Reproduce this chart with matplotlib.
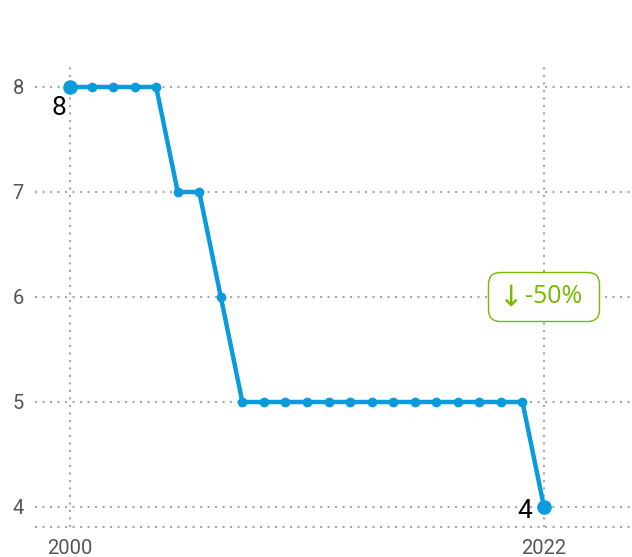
import matplotlib
matplotlib.use("Agg")
import matplotlib.pyplot as plt
from matplotlib.patches import FancyBboxPatch
from matplotlib.transforms import IdentityTransform

years = list(range(2000, 2023))
values = [8, 8, 8, 8, 8, 7, 7, 6, 5, 5, 5, 5, 5, 5, 5, 5, 5, 5, 5, 5, 5, 5, 4]
xticks = [2000, 2022]
yticks = [4, 5, 6, 7, 8]
badge_arrow = "↓"
badge_text = "-50%"

blue = "#0a9bdc"
green = "#76b900"
grid_col = "#a8a8a8"

plt.rcParams['font.family'] = ['Roboto', 'DejaVu Sans']

fig = plt.figure(figsize=(6.32, 5.57), dpi=100)
W, H = 632, 557
ax = fig.add_axes([35 / W, (H - 527) / H, (632 - 35) / W, (527 - 65) / H])

px_per_year = (544 - 70) / 22
x_left = 2000 - (70 - 35) / px_per_year
x_right = 2000 + (632 - 70) / px_per_year
ax.set_xlim(x_left, x_right)
px_per_unit = (507 - 87) / 4
y_bottom = 4 - (527 - 507) / px_per_unit
ax.set_ylim(y_bottom, 8 + (87 - 65) / px_per_unit)

dot = (0, (1, 2.6))
for y in yticks:
    ax.axhline(y, color=grid_col, lw=1.5, ls=dot, zorder=0)
ax.axhline(y_bottom, color=grid_col, lw=1.5, ls=dot, zorder=0, clip_on=False)
for x in xticks:
    ax.axvline(x, color=grid_col, lw=1.5, ls=dot, zorder=0)

for s in ax.spines.values():
    s.set_visible(False)

ax.set_xticks(xticks)
ax.set_yticks(yticks)
ax.tick_params(length=0, labelsize=14.5, colors="#555555", pad=8)
ax.tick_params(axis='x', pad=9)

ax.plot(years, values, color=blue, lw=3.2, marker='o', ms=6, zorder=3,
        solid_joinstyle='round', clip_on=False)
ax.plot([years[0], years[-1]], [values[0], values[-1]], 'o', color=blue, ms=9.5,
        zorder=4, clip_on=False)

ax.annotate(str(values[0]), (years[0], values[0]), xytext=(-11, -21),
            textcoords='offset pixels', ha='center', va='center', fontsize=19,
            color='black')
ax.annotate(str(values[-1]), (years[-1], values[-1]), xytext=(-19, -4),
            textcoords='offset pixels', ha='center', va='center', fontsize=19,
            color='black')

# badge centred on last year, at the 6 gridline
cx, cy = ax.transData.transform((years[-1], 6.0))
bw, bh = 111, 49
box = FancyBboxPatch((cx - bw / 2, cy - bh / 2), bw, bh,
                     boxstyle="round,pad=0,rounding_size=12",
                     fc='white', ec=green, lw=1.0, transform=IdentityTransform(),
                     zorder=5)
fig.patches.append(box)
box.set_figure(fig)
fig.text((cx - 34) / W, (cy - 1) / H, badge_arrow, ha='center', va='center',
         fontsize=21, color=green, family=['DejaVu Sans'], zorder=6)
fig.text((cx + 10) / W, cy / H, badge_text, ha='center', va='center',
         fontsize=18, color=green, family=['Open Sans', 'DejaVu Sans'], zorder=6)

fig.savefig("out.png", dpi=100)
